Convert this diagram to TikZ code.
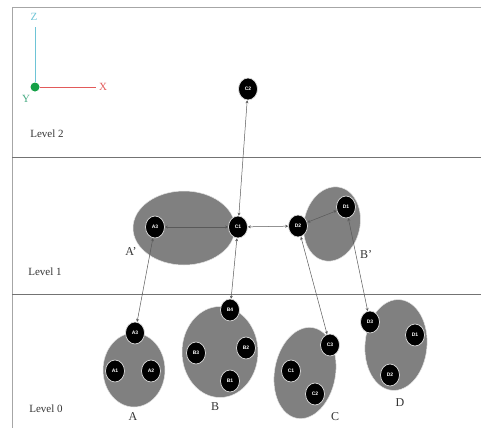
\documentclass[tikz,border=0pt]{standalone}
\usepackage{fontspec}
\setmainfont{Liberation Serif}
\setsansfont{Liberation Sans}
\usetikzlibrary{shapes.geometric,arrows.meta}

\definecolor{zcol}{RGB}{110,196,214}
\definecolor{xcol}{RGB}{226,90,90}
\definecolor{ycol}{RGB}{70,170,130}
\definecolor{dotcol}{RGB}{20,160,70}
\definecolor{grpcol}{RGB}{128,128,128}

\begin{document}
\begin{tikzpicture}[x=1pt,y=-1pt,
    blob/.style={ellipse,fill=black,draw=white!75!gray,line width=0.7pt,
      minimum width=19pt,minimum height=22pt,inner sep=0pt,text=white,
      font=\sffamily\bfseries\fontsize{5}{6}\selectfont},
    grp/.style={ellipse,fill=grpcol,draw=white!80!gray,line width=0.5pt,inner sep=0pt},
    link/.style={black!65,line width=0.5pt,
      {Stealth[length=3pt,width=3pt]}-{Stealth[length=3pt,width=3pt]}},
    inlink/.style={black!50,line width=0.35pt,
      {Stealth[length=2.5pt,width=2.5pt]}-{Stealth[length=2.5pt,width=2.5pt]}},
    lvl/.style={font=\fontsize{11}{13}\selectfont,text=black!80},
    tag/.style={font=\fontsize{12}{14}\selectfont,text=black!80}]
    \useasboundingbox (0,0) rectangle (481,428);

    % Bingkai dan garis level
    \draw[black!35,line width=0.8pt] (481,7) -- (12,7) -- (12,428);
    \draw[black!55,line width=0.9pt] (12,157) -- (481,157);
    \draw[black!55,line width=0.9pt] (12,294) -- (481,294);
    \node[lvl] (lv2) at (47,134) {Level 2};
    \node[lvl] (lv1) at (45,272) {Level 1};
    \node[lvl] (lv0) at (46,409) {Level 0};

    % Sumbu
    \coordinate (zend) at (35,27);
    \coordinate (xend) at (96,87);
    \node[circle,fill=dotcol,minimum size=9pt,inner sep=0pt] (org) at (35,87) {};
    \draw[zcol,line width=0.7pt] (org) -- (zend);
    \draw[xcol,line width=0.7pt] (org) -- (xend);
    \node[text=zcol,font=\fontsize{11}{13}\selectfont] (zlab) at (34,17) {Z};
    \node[text=xcol,font=\fontsize{11}{13}\selectfont] (xlab) at (103,87) {X};
    \node[text=ycol,font=\fontsize{11}{13}\selectfont] (ylab) at (26,99) {Y};

    % Kelompok
    \node[grp,minimum width=102pt,minimum height=74pt] (gAp) at (184,228) {};
    \node[grp,minimum width=56pt,minimum height=75pt,rotate=-12] (gBp) at (332,224) {};
    \node[grp,minimum width=62pt,minimum height=74pt] (gA) at (134,370) {};
    \node[grp,minimum width=76pt,minimum height=91pt] (gB) at (220,352) {};
    \node[grp,minimum width=61pt,minimum height=92pt,rotate=-10] (gC) at (305,373) {};
    \node[grp,minimum width=62pt,minimum height=91pt,rotate=-5] (gD) at (396,345) {};

    \node[tag] (tAp) at (131,252) {A’};
    \node[tag] (tBp) at (366,255) {B’};
    \node[tag] (tA) at (133,417) {A};
    \node[tag] (tB) at (215,407) {B};
    \node[tag] (tC) at (335,417) {C};
    \node[tag] (tD) at (400,403) {D};

    % Simpul
    \node[blob] (top) at (248,89) {C2};
    \node[blob] (a3p) at (155,227) {A3};
    \node[blob] (c1p) at (238,227) {C1};
    \node[blob] (d2p) at (298,226) {D2};
    \node[blob] (d1p) at (346,207) {D1};

    \node[blob] (a3) at (135,333) {A3};
    \node[blob] (a1) at (115,371) {A1};
    \node[blob] (a2) at (151,371) {A2};
    \node[blob] (b4) at (230,310) {B4};
    \node[blob] (b3) at (196,353) {B3};
    \node[blob] (b2) at (246,348) {B2};
    \node[blob] (b1) at (230,381) {B1};
    \node[blob] (c3) at (330,345) {C3};
    \node[blob] (c1) at (291,371) {C1};
    \node[blob] (c2) at (315,394) {C2};
    \node[blob] (d3) at (370,322) {D3};
    \node[blob] (d1) at (415,335) {D1};
    \node[blob] (d2) at (390,375) {D2};

    % Hubungan antar level
    \draw[link] (top) -- (c1p);
    \draw[link] (a3p) -- (c1p);
    \draw[link] (c1p) -- (d2p);
    \draw[link] (d2p) -- (d1p);
    \draw[link] (a3p) -- (a3);
    \draw[link] (c1p) -- (b4);
    \draw[link] (d2p) -- (c3);
    \draw[link] (d1p) -- (d3);

    % Hubungan dalam kelompok
    \draw[inlink] (a3) -- (a1);
    \draw[inlink] (a3) -- (a2);
    \draw[inlink] (a1) -- (a2);
    \draw[inlink] (b4) -- (b3);
    \draw[inlink] (b4) -- (b2);
    \draw[inlink] (b4) -- (b1);
    \draw[inlink] (b2) -- (b1);
    \draw[inlink] (c3) -- (c1);
    \draw[inlink] (c3) -- (c2);
    \draw[inlink] (d3) -- (d1);
    \draw[inlink] (d3) -- (d2);
\end{tikzpicture}
\end{document}
